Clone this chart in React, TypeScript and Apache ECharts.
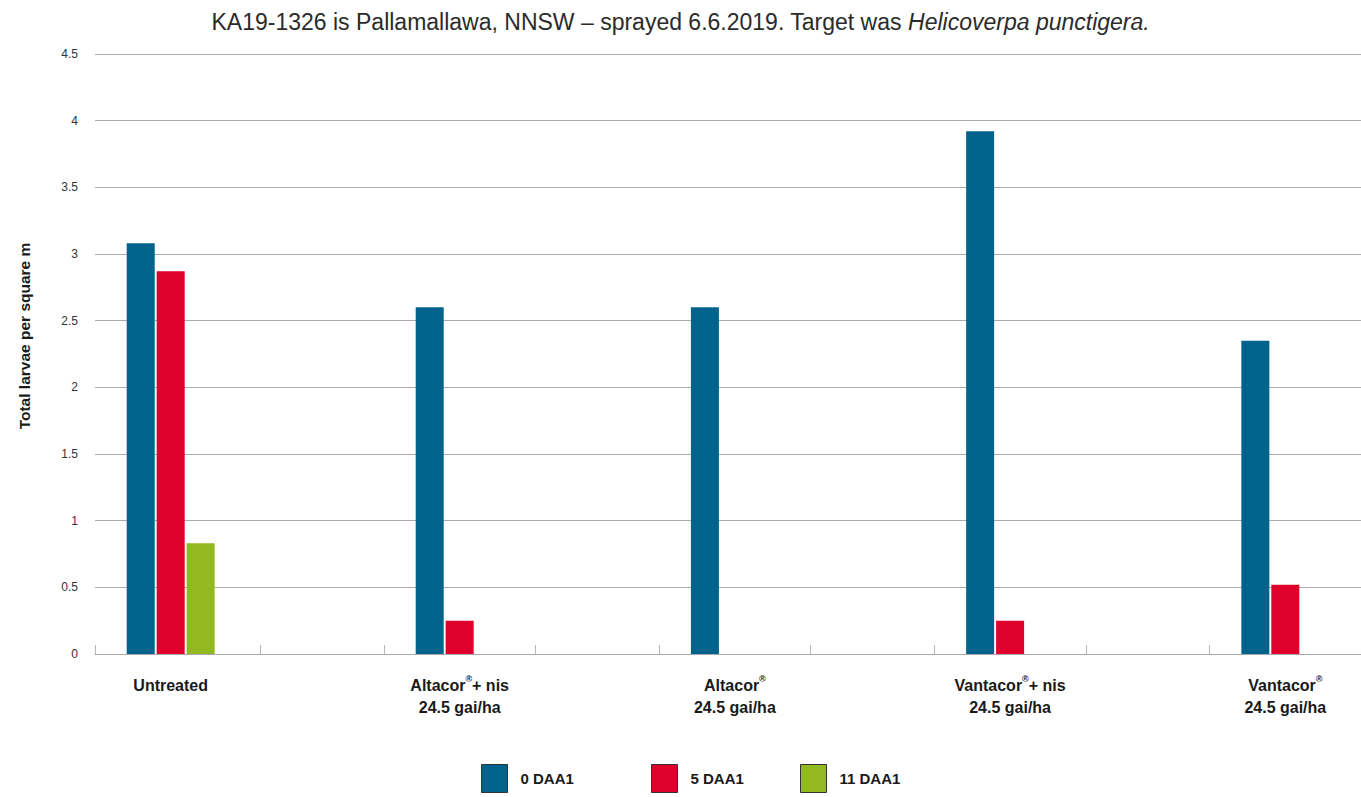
import React, { useEffect, useRef } from "react";
import * as echarts from "echarts";

// ---- data ----
const treatments: string[] = [
  "Untreated",
  "Altacor®+ nis\n24.5 gai/ha",
  "Altacor®\n24.5 gai/ha",
  "Vantacor®+ nis\n24.5 gai/ha",
  "Vantacor®\n24.5 gai/ha",
];
const seriesNames: string[] = ["0 DAA1", "5 DAA1", "11 DAA1"];
const daa0: number[] = [3.08, 2.6, 2.6, 3.92, 2.35];
const daa5: number[] = [2.87, 0.25, 0, 0.25, 0.52];
const daa11: number[] = [0.83, 0, 0, 0, 0];
const yTicks = { min: 0, max: 4.5, interval: 0.5 };
const titleMain = "KA19-1326 is Pallamallawa, NNSW – sprayed 6.6.2019. Target was ";
const titleItalic = "Helicoverpa punctigera.";
const yName = "Total larvae per square m";

// ---- layout (band widths in axis units; treatment bands alternate with empty bands) ----
const bandUnits = [12, 9, 11, 9, 11, 9, 11, 9, 11];
const barUnitInBand = 5;

const colors = ["#00638C", "#DF002C", "#92B91F"];
const FONT = "'Liberation Sans', Arial, Helvetica, sans-serif";

function buildAxis() {
  const cats: string[] = [];
  const tickStarts = new Set<number>();
  const barIdx: number[] = [];
  let u = 0;
  bandUnits.forEach((w, b) => {
    tickStarts.add(u);
    if (b % 2 === 0) barIdx.push(u + barUnitInBand);
    for (let k = 0; k < w; k++) cats.push("c" + (u + k));
    u += w;
  });
  return { cats, tickStarts, barIdx };
}

function richLabel(s: string): string {
  return s
    .split("\n")
    .map((line) =>
      line
        .split("®")
        .map((p) => (p ? "{b|" + p + "}" : ""))
        .join("{s|®}")
    )
    .join("\n");
}

export default function App() {
  const ref = useRef<HTMLDivElement>(null);
  useEffect(() => {
    if (!ref.current) return;
    const chart = echarts.init(ref.current, undefined, { renderer: "svg" });
    const { cats, tickStarts, barIdx } = buildAxis();
    const labelAt: Record<number, string> = {};
    barIdx.forEach((ix, i) => (labelAt[ix] = richLabel(treatments[i])));
    const spread = (vals: number[]) => {
      const arr: (number | null)[] = cats.map(() => null);
      barIdx.forEach((ix, i) => (arr[ix] = vals[i]));
      return arr;
    };
    const allSeries = [daa0, daa5, daa11];

    chart.setOption({
      animation: false,
      backgroundColor: "#ffffff",
      textStyle: { fontFamily: FONT },
      title: {
        left: "center",
        top: 5,
        text: "{n|" + titleMain + "}{i|" + titleItalic + "}",
        textStyle: {
          fontWeight: "normal",
          rich: {
            n: { fontSize: 23, fontWeight: "normal", color: "#2b2b2b", fontFamily: FONT },
            i: {
              fontSize: 23,
              fontWeight: "normal",
              color: "#2b2b2b",
              fontStyle: "italic",
              fontFamily: FONT,
            },
          },
        },
      },
      graphic: [
        {
          type: "text",
          x: 24,
          y: 336,
          rotation: Math.PI / 2,
          style: {
            text: yName,
            fontSize: 15.5,
            fontWeight: "bold",
            fill: "#1a1a1a",
            fontFamily: FONT,
            align: "center",
            verticalAlign: "middle",
          },
        },
      ],
      legend: seriesNames.map((n, i) => ({
        data: [n],
        left: [476, 646, 795][i],
        top: 759,
        itemWidth: 26,
        itemHeight: 28,
        icon: "rect",
        itemStyle: { borderColor: "#333", borderWidth: 1 },
        textStyle: {
          fontSize: 15,
          fontWeight: "bold",
          color: "#1a1a1a",
          fontFamily: FONT,
          padding: [0, 0, 0, 8],
        },
      })),
      grid: { left: 95, right: 0, top: 54, bottom: 143 },
      xAxis: {
        type: "category",
        data: cats,
        boundaryGap: true,
        axisLine: { lineStyle: { color: "#a8a8a8", width: 1 } },
        axisTick: {
          show: true,
          inside: true,
          length: 9,
          lineStyle: { color: "#b8b8b8" },
          interval: (index: number) => tickStarts.has(index),
        },
        axisLabel: {
          interval: (index: number) => labelAt[index] !== undefined,
          margin: 20,
          formatter: (_v: string, index: number) => labelAt[index] || "",
          rich: {
            b: {
              fontSize: 16,
              fontWeight: "bold",
              color: "#1a1a1a",
              lineHeight: 22,
              fontFamily: FONT,
            },
            s: {
              fontSize: 9,
              fontWeight: "bold",
              color: "#1a1a1a",
              verticalAlign: "top",
              lineHeight: 22,
              padding: [0, 0, 8, 0],
              fontFamily: FONT,
            },
          },
        },
        splitLine: { show: false },
      },
      yAxis: {
        type: "value",
        min: yTicks.min,
        max: yTicks.max,
        interval: yTicks.interval,
        axisLine: { show: false },
        axisTick: { show: false },
        axisLabel: { fontSize: 12, color: "#333", margin: 17, fontFamily: FONT },
        splitLine: { lineStyle: { color: "#ababab", width: 1 } },
      },
      series: seriesNames.map((n, i) => ({
        name: n,
        type: "bar",
        data: spread(allSeries[i]),
        barWidth: 28,
        barGap: "7%",
        itemStyle: { color: colors[i] },
      })),
    });
    return () => chart.dispose();
  }, []);
  return (
    <div
      ref={ref}
      style={{ position: "fixed", left: 0, top: 0, width: 1361, height: 797, background: "#fff" }}
    />
  );
}
